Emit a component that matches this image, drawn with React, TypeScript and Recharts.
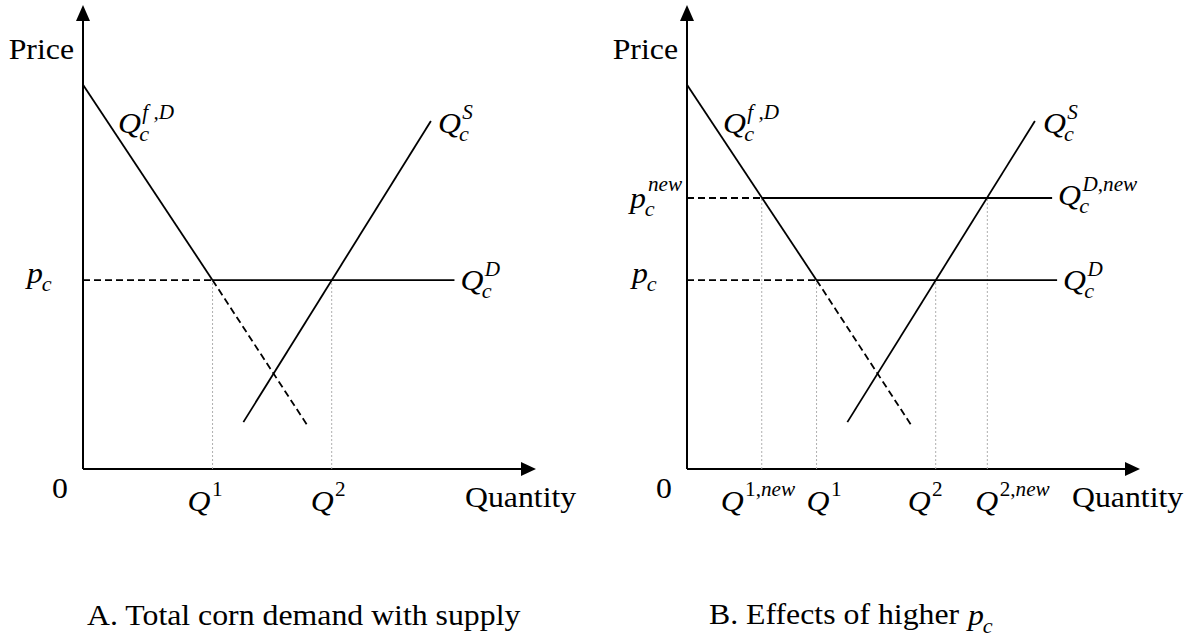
import { ComposedChart, Line, XAxis, YAxis, ReferenceLine, ReferenceDot } from "recharts";

const SERIF = "'Liberation Serif', 'Times New Roman', serif";
const STRETCH = 1.06; // the source figure is slightly wider than tall

// price levels (vertical axis, 0-10)
const PRICE_C = 4.07;
const PRICE_C_NEW = 5.84;

// quantity levels (horizontal axis, 0-10)
const Q1 = 2.86;
const Q2 = 5.49;
const Q1_NEW = 1.65;
const Q2_NEW = 6.63;

// curves
const farmDemandQ = [0, Q1];
const farmDemandP = [8.28, PRICE_C];
const farmDemandExtQ = [Q1, 4.98];
const farmDemandExtP = [PRICE_C, 0.9];
const supplyQ = [3.54, 7.68];
const supplyP = [1.01, 7.5];

// right ends of the flat total-demand lines
const qdEndA = 8.2;
const qdEndB = 8.17;
const qdNewEndB = 8.06;

const pts = (qs: number[], ps: number[]) => qs.map((q, i) => ({ q, p: ps[i] }));
const flat = (q0: number, q1: number, p: number) => [{ q: q0, p }, { q: q1, p }];

type Seg = { t: string; it?: boolean };

interface MathProps {
  viewBox?: { x: number; y: number };
  offX: number;
  offY: number;
  base: string;
  baseIt?: boolean;
  baseW?: number;
  sub?: string;
  sup?: Seg[];
  supRise?: number;
  anchor?: "start" | "middle" | "end";
}

function MathLabel({ viewBox, offX, offY, base, baseIt = true, baseW = 20, sub, sup, supRise = 14, anchor = "start" }: MathProps) {
  if (!viewBox) return null;
  const x = viewBox.x + offX;
  const y = viewBox.y + offY;
  return (
    <g transform={`translate(${x},${y}) scale(${STRETCH},1)`} fill="#000">
      <text x={0} y={0} fontFamily={SERIF} fontSize={30} fontStyle={baseIt ? "italic" : "normal"} textAnchor={anchor}>
        {base}
      </text>
      {sub && (
        <text x={baseW} y={8} fontFamily={SERIF} fontSize={21} fontStyle="italic">
          {sub}
        </text>
      )}
      {sup && (
        <text x={baseW + 3} y={-supRise} fontFamily={SERIF} fontSize={20}>
          {sup.map((s, i) => (
            <tspan key={i} fontStyle={s.it ? "italic" : "normal"}>
              {s.t}
            </tspan>
          ))}
        </text>
      )}
    </g>
  );
}

const lineProps = {
  type: "linear" as const,
  dataKey: "p",
  stroke: "#000",
  strokeWidth: 1.8,
  dot: false,
  activeDot: false,
  legendType: "none" as const,
  isAnimationActive: false,
};

const guide = { stroke: "#a6a6a6", strokeWidth: 0.9, strokeDasharray: "2 2" };
const axisStroke = { stroke: "#000", strokeWidth: 2 };

function Tag({ q, p, children }: { q: number; p: number; children: JSX.Element }) {
  return <ReferenceDot x={q} y={p} r={0} fill="none" stroke="none" ifOverflow="visible" label={children} />;
}

function Panel({ isB, width }: { isB: boolean; width: number }) {
  const qdEnd = isB ? qdEndB : qdEndA;
  return (
    <ComposedChart width={width} height={639} margin={{ top: 5, left: 83, right: width - 536, bottom: 170 }}>
      <XAxis type="number" dataKey="q" domain={[0, 10]} hide />
      <YAxis type="number" domain={[0, 10]} hide />

      {/* axes with arrow heads */}
      <ReferenceLine segment={[{ x: 0, y: 0 }, { x: 9.8, y: 0 }]} {...axisStroke} ifOverflow="visible" />
      <ReferenceLine segment={[{ x: 0, y: 0 }, { x: 0, y: 9.8 }]} {...axisStroke} ifOverflow="visible" />
      <ReferenceDot
        x={10}
        y={0}
        ifOverflow="visible"
        shape={(s: any) => <path d={`M${s.cx - 15},${s.cy - 7}L${s.cx},${s.cy}L${s.cx - 15},${s.cy + 7}Z`} fill="#000" />}
      />
      <ReferenceDot
        x={0}
        y={10}
        ifOverflow="visible"
        shape={(s: any) => <path d={`M${s.cx - 7},${s.cy + 16}L${s.cx},${s.cy}L${s.cx + 7},${s.cy + 16}Z`} fill="#000" />}
      />

      {/* dotted drop lines */}
      <ReferenceLine segment={[{ x: Q1, y: 0 }, { x: Q1, y: PRICE_C }]} {...guide} ifOverflow="visible" />
      <ReferenceLine segment={[{ x: Q2, y: 0 }, { x: Q2, y: PRICE_C }]} {...guide} ifOverflow="visible" />
      {isB && <ReferenceLine segment={[{ x: Q1_NEW, y: 0 }, { x: Q1_NEW, y: PRICE_C_NEW }]} {...guide} ifOverflow="visible" />}
      {isB && <ReferenceLine segment={[{ x: Q2_NEW, y: 0 }, { x: Q2_NEW, y: PRICE_C_NEW }]} {...guide} ifOverflow="visible" />}

      {/* curves */}
      <Line {...lineProps} data={pts(farmDemandQ, farmDemandP)} />
      <Line {...lineProps} data={pts(farmDemandExtQ, farmDemandExtP)} strokeDasharray="7 4" />
      <Line {...lineProps} data={pts(supplyQ, supplyP)} />
      <Line {...lineProps} data={flat(0, Q1, PRICE_C)} strokeDasharray="7 4" />
      <Line {...lineProps} data={flat(Q1, qdEnd, PRICE_C)} />
      {isB && <Line {...lineProps} data={flat(0, Q1_NEW, PRICE_C_NEW)} strokeDasharray="7 4" />}
      {isB && <Line {...lineProps} data={flat(Q1_NEW, qdNewEndB, PRICE_C_NEW)} />}

      {/* axis texts */}
      <Tag q={0} p={10}>
        <MathLabel offX={-9} offY={54} base="Price" baseIt={false} anchor="end" />
      </Tag>
      <Tag q={0} p={0}>
        <MathLabel offX={-23} offY={29} base="0" baseIt={false} anchor="middle" />
      </Tag>
      <Tag q={10} p={0}>
        <MathLabel offX={isB ? -68 : -71} offY={38} base="Quantity" baseIt={false} />
      </Tag>
      <Tag q={Q1} p={0}>
        <MathLabel offX={isB ? -10 : -25} offY={42} base="Q" sup={[{ t: "1" }]} supRise={15} />
      </Tag>
      <Tag q={Q2} p={0}>
        <MathLabel offX={isB ? -28 : -21} offY={42} base="Q" sup={[{ t: "2" }]} supRise={15} />
      </Tag>
      {isB && (
        <Tag q={Q1_NEW} p={0}>
          <MathLabel offX={-41} offY={42} base="Q" sup={[{ t: "1," }, { t: "new", it: true }]} supRise={15} />
        </Tag>
      )}
      {isB && (
        <Tag q={Q2_NEW} p={0}>
          <MathLabel offX={-12} offY={42} base="Q" sup={[{ t: "2," }, { t: "new", it: true }]} supRise={15} />
        </Tag>
      )}

      {/* price labels */}
      <Tag q={0} p={PRICE_C}>
        <MathLabel offX={isB ? -55 : -56} offY={3} base="p" baseW={14} sub="c" />
      </Tag>
      {isB && (
        <Tag q={0} p={PRICE_C_NEW}>
          <MathLabel offX={-57} offY={10} base="p" baseW={14} sub="c" sup={[{ t: "new", it: true }]} supRise={17} />
        </Tag>
      )}

      {/* curve labels */}
      <Tag q={farmDemandQ[0]} p={farmDemandP[0]}>
        <MathLabel offX={isB ? 36 : 35} offY={48} base="Q" sub="c" sup={[{ t: "f ,D", it: true }]} />
      </Tag>
      <Tag q={supplyQ[1]} p={supplyP[1]}>
        <MathLabel offX={isB ? 8 : 7} offY={12} base="Q" sub="c" sup={[{ t: "S", it: true }]} />
      </Tag>
      <Tag q={qdEnd} p={PRICE_C}>
        <MathLabel offX={6} offY={10} base="Q" sub="c" sup={[{ t: "D", it: true }]} />
      </Tag>
      {isB && (
        <Tag q={qdNewEndB} p={PRICE_C_NEW}>
          <MathLabel offX={6} offY={7} base="Q" sub="c" sup={[{ t: "D", it: true }, { t: "," }, { t: "new", it: true }]} />
        </Tag>
      )}
    </ComposedChart>
  );
}

export default function App() {
  return (
    <div style={{ position: "absolute", left: 0, top: 0, width: 1189, height: 639, background: "#fff" }}>
      <div style={{ position: "absolute", left: 0, top: 0 }}>
        <Panel isB={false} width={594} />
      </div>
      <div style={{ position: "absolute", left: 604, top: 0 }}>
        <Panel isB={true} width={585} />
      </div>
      <svg width={1189} height={639} style={{ position: "absolute", left: 0, top: 0, pointerEvents: "none" }}>
        <g transform={`translate(87,625) scale(${STRETCH},1)`}>
          <text fontFamily={SERIF} fontSize={30}>A. Total corn demand with supply</text>
        </g>
        <g transform={`translate(709,624) scale(${STRETCH},1)`}>
          <text fontFamily={SERIF} fontSize={30}>B. Effects of higher</text>
        </g>
        <g transform={`translate(968,625) scale(${STRETCH},1)`}>
          <text fontFamily={SERIF} fontSize={30} fontStyle="italic">p</text>
          <text x={14} y={8} fontFamily={SERIF} fontSize={21} fontStyle="italic">c</text>
        </g>
      </svg>
    </div>
  );
}
